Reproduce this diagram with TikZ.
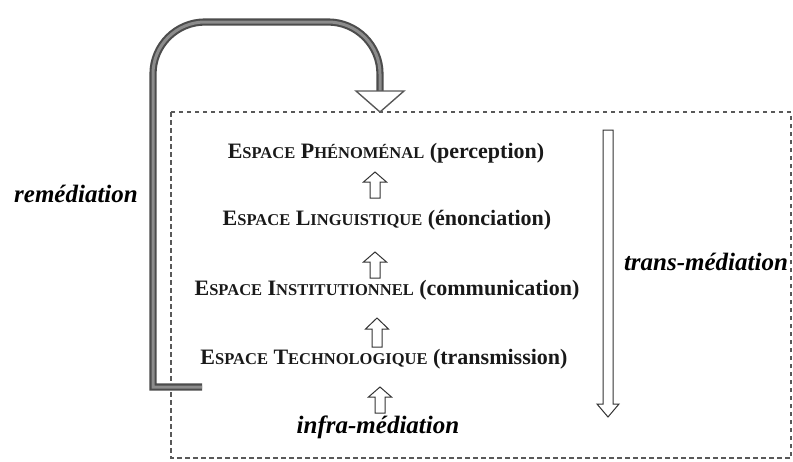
\documentclass[tikz,border=0pt]{standalone}
\usepackage{fontspec}
\setmainfont{Liberation Serif}
\usetikzlibrary{calc}

% capital followed by a run of smaller capitals
\newcommand\capsm[2]{#1{\fontsize{16.5}{16.5}\selectfont #2}}

% vertical hollow block arrow:
% #1 name, #2 x, #3 tail y, #4 head base y, #5 tip y, #6 shaft half width, #7 head half width
\newcommand\vblockarrow[7]{%
  \coordinate (#1-tail) at (#2,#3);
  \coordinate (#1-tip) at (#2,#5);
  \draw[blockarrow] ($(#1-tail)+(-#6,0)$) -- (#2-#6,#4) -- (#2-#7,#4) -- (#1-tip)
    -- (#2+#7,#4) -- (#2+#6,#4) -- ($(#1-tail)+(#6,0)$) -- cycle;}

\tikzset{
  space/.style={inner sep=1pt, text=black!90,
    font=\fontsize{22}{24}\selectfont\bfseries},
  medlabel/.style={inner sep=1pt, text=black,
    font=\fontsize{25}{28}\selectfont\bfseries\itshape},
  blockarrow/.style={draw=black!80, fill=white, line width=1pt, line join=miter},
  frame/.style={draw=black!65, dashed, dash pattern=on 4.5pt off 3.5pt, line width=1.2pt},
  remline/.style={draw=black!70, double=black!45, line width=2.1pt,
    double distance=3pt},
  remhead/.style={draw=black!65, fill=white, line width=1.4pt, line join=miter}
}

\begin{document}
\begin{tikzpicture}[x=1pt, y=-1pt]
  \useasboundingbox (0,0) rectangle (793,461);

  % dashed frame around the four spaces
  \draw[frame] (171,112) rectangle (791,458);

  % the four spaces
  \node[space] (phen)  at (386,153) {\capsm{E}{SPACE} \capsm{P}{HÉNOMÉNAL} (perception)};
  \node[space] (ling)  at (387,220) {\capsm{E}{SPACE} \capsm{L}{INGUISTIQUE} (énonciation)};
  \node[space] (inst)  at (387,290) {\capsm{E}{SPACE} \capsm{I}{NSTITUTIONNEL} (communication)};
  \node[space] (tech)  at (384,359) {\capsm{E}{SPACE} \capsm{T}{ECHNOLOGIQUE} (transmission)};
  \node[medlabel] (infra) at (378,427) {infra-médiation};

  % upward block arrows between the layers
  \vblockarrow{a1}{375}{198}{182}{172}{5}{11.5}
  \vblockarrow{a2}{375}{278}{262}{252}{5}{11.5}
  \vblockarrow{a3}{377}{347}{329}{318}{5}{11.5}
  \vblockarrow{a4}{380}{413}{397}{387}{5}{11.5}

  % trans-mediation: long downward arrow
  \vblockarrow{trans}{608}{130}{404}{417}{5}{11}
  \node[medlabel] (translbl) at (706,262) {trans-médiation};

  % remediation loop
  \node[medlabel] (remlbl) at (76,194) {remédiation};
  \coordinate (remfoot) at (202,387);
  \coordinate (remcorner) at (153,387);
  \coordinate (remend) at (380,91);
  \draw[remline] (remfoot) -- (remcorner) [rounded corners=52pt] -- (153,22) -- (380,22) -- (remend);
  \draw[remhead] ($(remend)+(-24,0)$) -- ($(remend)+(24,0)$) -- (380,112) -- cycle;
\end{tikzpicture}
\end{document}
